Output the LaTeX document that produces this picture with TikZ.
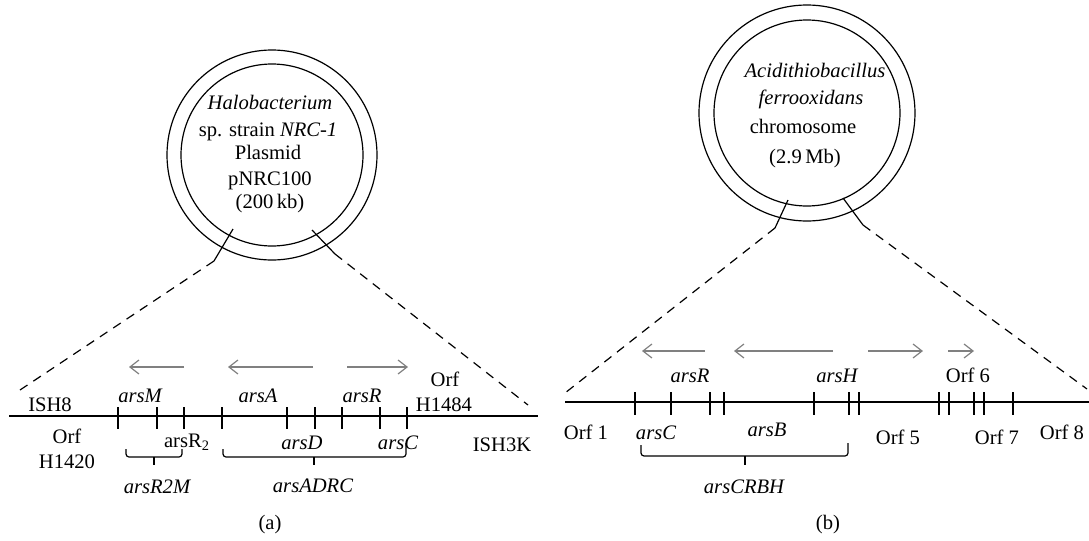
\documentclass[tikz,border=0pt]{standalone}
\usepackage{fontspec}
\setmainfont{Liberation Serif}
\usetikzlibrary{arrows.meta,positioning}

\begin{document}
\begin{tikzpicture}[
    x=0.5pt, y=-0.5pt,
    every node/.style={font=\fontsize{10.3}{12.4}\selectfont, inner sep=0pt, anchor=base},
    gene/.style={font=\fontsize{10.3}{12.4}\selectfont\itshape},
    dna/.style={line width=0.85pt},
    genetick/.style={line width=0.85pt},
    ring/.style={line width=0.6pt},
    zoomline/.style={line width=0.6pt, dash pattern=on 4.5pt off 3.5pt},
    dirarrow/.style={draw=black!50, line width=0.6pt, -{Straight Barb[length=4.5pt,width=7pt]}},
    genebrace/.style={line width=0.6pt, rounded corners=1.5pt}]
\useasboundingbox (0,0) rectangle (1089,541);

% (a) plasmid
\coordinate (plasmid) at (272,155);
\draw[ring] (plasmid) circle[radius=105];
\draw[ring] (plasmid) circle[radius=91];
\node[gene] (halo) at (270,109) {Halobacterium};
\node (strain) at (268,136) {sp. strain \textit{NRC-1}};
\node (plas) at (268,159) {Plasmid};
\node (pnrc) at (270,185) {pNRC100};
\node (sizea) at (270,208) {(200\,kb)};

\coordinate (cutal) at (233,229);
\coordinate (cutalo) at (214,261);
\coordinate (cutar) at (312,230);
\coordinate (cutaro) at (335,254);
\coordinate (endal) at (17,392);
\coordinate (endar) at (528,405);
\draw[ring] (cutal) -- (cutalo);
\draw[ring] (cutar) -- (cutaro);
\draw[zoomline] (cutalo) -- (endal);
\draw[zoomline] (cutaro) -- (endar);

\coordinate (dnaa0) at (9,416);
\coordinate (dnaa1) at (538,416);
\draw[dna] (dnaa0) -- (dnaa1);
\foreach \x in {118,157,184,222,287,315,342,380,407}
    \draw[genetick] (\x,407) -- (\x,429);

\draw[dirarrow] (184,367) -- (129,367);
\draw[dirarrow] (313,367) -- (228,367);
\draw[dirarrow] (347,367) -- (408,367);

\node (ish8) at (50,411) {ISH8};
\node[gene] (arsm) at (140,402) {arsM};
\node[gene] (arsa) at (258,402) {arsA};
\node[gene] (arsra) at (362,402) {arsR};
\node (orfh1484) at (445,386) {Orf};
\node (h1484) at (444,411) {H1484};
\node (orfh1420) at (67,443) {Orf};
\node (h1420) at (67,468) {H1420};
\node (arsrtwo) at (187,447) {arsR\textsubscript{2}};
\node[gene] (arsd) at (302,449) {arsD};
\node[gene] (arsca) at (398,449) {arsC};
\node (ish3k) at (502,451) {ISH3K};

\draw[genebrace] (126,449) -- (126,457) -- (182,457) -- (182,449);
\draw[genebrace] (154,457) -- (154,465);
\draw[genebrace] (223,449) -- (223,457) -- (406,457) -- (406,443);
\draw[genebrace] (314,457) -- (314,465);
\node[gene] (arsr2m) at (157,493) {arsR2M};
\node[gene] (arsadrc) at (313,492) {arsADRC};
\node (capa) at (270,529) {(a)};

% (b) chromosome
\coordinate (chromo) at (807,113);
\draw[ring] (chromo) circle[radius=108];
\draw[ring] (chromo) circle[radius=93];
\node[gene] (acidi) at (815,77) {Acidithiobacillus};
\node[gene] (ferro) at (811,104) {ferrooxidans};
\node (chrom) at (803,133) {chromosome};
\node (sizeb) at (805,163) {(2.9\,Mb)};

\coordinate (cutbl) at (788,200);
\coordinate (cutblo) at (775,228);
\coordinate (cutbr) at (843,198);
\coordinate (cutbro) at (863,225);
\coordinate (endbl) at (565,393);
\coordinate (endbr) at (1087,389);
\draw[ring] (cutbl) -- (cutblo);
\draw[ring] (cutbr) -- (cutbro);
\draw[zoomline] (cutblo) -- (endbl);
\draw[zoomline] (cutbro) -- (endbr);

\coordinate (dnab0) at (565,402);
\coordinate (dnab1) at (1089,402);
\draw[dna] (dnab0) -- (dnab1);
\foreach \x in {635,671,710,724,814,849,859,939,949,974,984,1013}
    \draw[genetick] (\x,392) -- (\x,415);

\draw[dirarrow] (705,351) -- (642,351);
\draw[dirarrow] (833,351) -- (734,351);
\draw[dirarrow] (868,351) -- (923,351);
\draw[dirarrow] (948,351) -- (974,351);

\node[gene] (arsrb) at (690,382) {arsR};
\node[gene] (arsh) at (837,382) {arsH};
\node (orf6) at (968,382) {Orf 6};
\node (orf1) at (586,439) {Orf 1};
\node[gene] (arscb) at (656,439) {arsC};
\node[gene] (arsb) at (767,436) {arsB};
\node (orf5) at (898,444) {Orf 5};
\node (orf7) at (997,444) {Orf 7};
\node (orf8) at (1062,439) {Orf 8};

\draw[genebrace] (641,445) -- (641,456) -- (848,456) -- (848,443);
\draw[genebrace] (745,456) -- (745,465);
\node[gene] (arscrbh) at (744,493) {arsCRBH};
\node (capb) at (828,529) {(b)};
\end{tikzpicture}
\end{document}
